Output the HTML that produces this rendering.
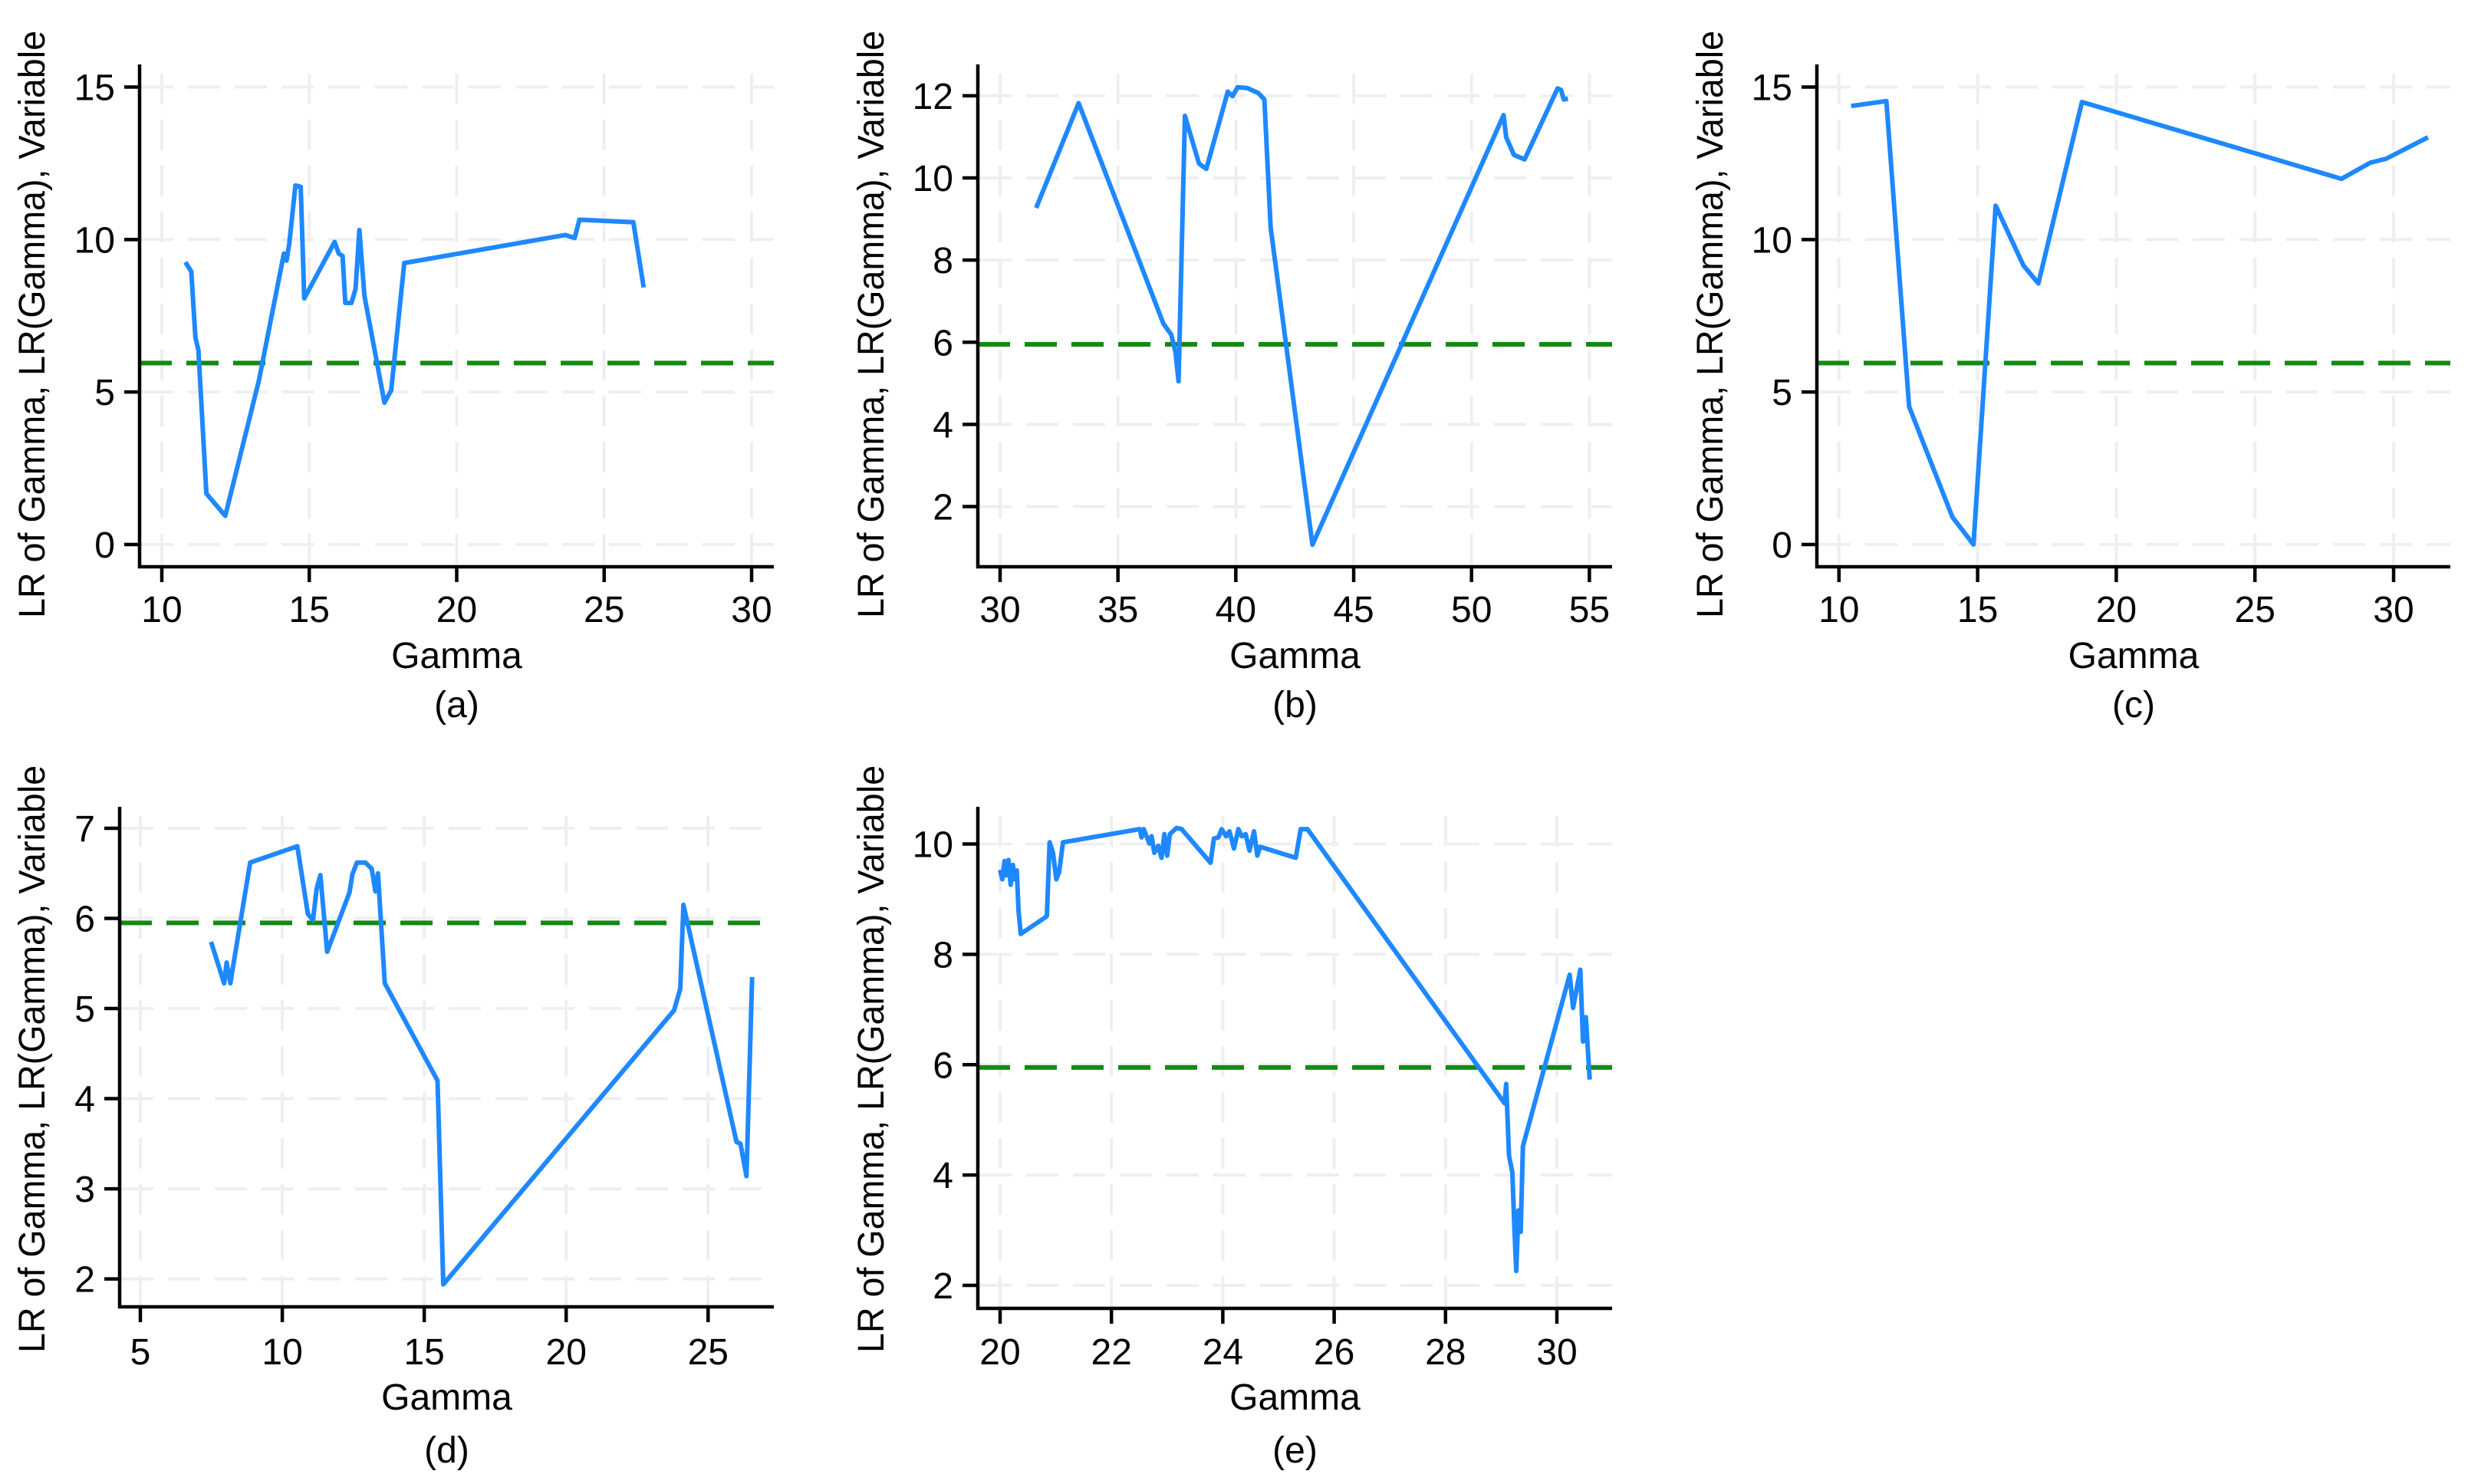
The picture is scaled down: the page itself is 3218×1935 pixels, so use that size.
<!DOCTYPE html>
<html><head><meta charset="utf-8"><style>
html,body{margin:0;padding:0;background:#fff;}
svg{display:block;font-family:"Liberation Sans",Arial,sans-serif;}
</style></head><body>
<svg id="fig" width="3218" height="1935" viewBox="0 0 3218 1935" xmlns="http://www.w3.org/2000/svg"></svg>
<script>
// Panel (a)
const aGamma=[10.8,11.0,11.14,11.24,11.51,12.15,13.29,14.14,14.23,14.32,14.53,14.71,14.83,15.86,16.0,16.13,16.22,16.43,16.57,16.7,16.87,17.55,17.78,18.22,23.68,24.0,24.16,25.99,26.34];
const aLR=[9.26,8.95,6.79,6.37,1.67,0.94,5.37,9.54,9.31,9.85,11.77,11.73,8.07,9.92,9.54,9.46,7.92,7.92,8.38,10.31,8.15,4.65,5.06,9.23,10.15,10.05,10.65,10.57,8.43];
const aXTicks=[10,15,20,25,30];
const aYTicks=[0,5,10,15];
// Panel (b)
const bGamma=[31.53,33.33,36.93,37.26,37.44,37.57,37.84,38.44,38.75,39.66,39.86,40.08,40.48,40.95,41.21,41.48,43.25,51.36,51.47,51.8,52.25,53.65,53.8,53.91,54.09];
const bLR=[9.27,11.82,6.45,6.19,5.76,5.05,11.51,10.35,10.22,12.1,11.99,12.21,12.19,12.07,11.91,8.79,1.07,11.53,10.99,10.56,10.45,12.18,12.14,11.91,11.93];
const bXTicks=[30,35,40,45,50,55];
const bYTicks=[2,4,6,8,10,12];
// Panel (c)
const cGamma=[10.44,11.71,12.53,14.09,14.85,15.65,16.65,17.19,18.76,28.12,29.16,29.73,31.24];
const cLR=[14.38,14.54,4.52,0.9,0.0,11.11,9.15,8.56,14.51,11.99,12.52,12.65,13.35];
const cXTicks=[10,15,20,25,30];
const cYTicks=[0,5,10,15];
// Panel (d)
const dGamma=[7.49,7.95,8.04,8.17,8.87,10.53,10.9,11.08,11.21,11.34,11.58,12.37,12.47,12.63,12.93,13.15,13.28,13.37,13.61,15.47,15.67,23.8,24.02,24.13,26.0,26.14,26.35,26.55];
const dLR=[5.74,5.28,5.51,5.28,6.62,6.80,6.05,5.98,6.33,6.48,5.63,6.29,6.49,6.62,6.62,6.55,6.30,6.50,5.28,4.20,1.94,4.98,5.22,6.15,3.52,3.50,3.14,5.35];
const dXTicks=[5,10,15,20,25];
const dYTicks=[2,3,4,5,6,7];
// Panel (e)
const eGamma=[20.0,20.04,20.08,20.11,20.15,20.19,20.23,20.26,20.3,20.33,20.37,20.84,20.89,20.95,21.01,21.06,21.13,22.51,22.54,22.58,22.68,22.72,22.77,22.84,22.9,22.95,23.0,23.05,23.17,23.26,23.78,23.84,23.92,23.98,24.06,24.12,24.2,24.28,24.34,24.41,24.48,24.56,24.62,24.67,25.31,25.4,25.52,29.06,29.09,29.14,29.2,29.24,29.27,29.31,29.35,29.39,30.23,30.29,30.42,30.47,30.52,30.59];
const eLR=[9.53,9.36,9.69,9.43,9.71,9.26,9.62,9.36,9.52,8.80,8.37,8.69,10.03,9.84,9.36,9.49,10.03,10.27,10.12,10.27,10.01,10.14,9.84,9.97,9.75,10.18,9.79,10.18,10.29,10.27,9.66,10.1,10.12,10.27,10.14,10.23,9.92,10.27,10.14,10.18,9.88,10.23,9.79,9.95,9.75,10.27,10.27,5.30,5.65,4.35,4.05,2.97,2.26,3.36,2.97,4.52,7.63,7.03,7.72,6.42,6.86,5.73];
const eXTicks=[20,22,24,26,28,30];
const eYTicks=[2,4,6,8,10];
const critValue=5.95;

const NS="http://www.w3.org/2000/svg";
const svg=document.getElementById('fig');
const FS=48;
function mk(tag,attrs,parent){const e=document.createElementNS(NS,tag);for(const k in attrs)e.setAttribute(k,attrs[k]);parent.appendChild(e);return e;}

function panel(id,g0,gx,v0,vx,ticksX,ticksY,xs,ys,L,R,T,B,titleX,titleCY,xlabY,gamY,capY){
  const X=v=>gx[0]+(v-g0[0])*(gx[1]-gx[0])/(g0[1]-g0[0]);
  const Y=v=>vx[0]+(v-v0[0])*(vx[1]-vx[0])/(v0[1]-v0[0]);
  const g=mk('g',{},svg);
  
  
  ticksX.forEach(t=>{const l=mk('line',{x1:X(t),x2:X(t),y1:T+12,y2:B,stroke:'#efefef','stroke-width':4,'stroke-dasharray':'40 20'},g);
    
    });
  ticksY.forEach(t=>{const l=mk('line',{x1:L,x2:R,y1:Y(t),y2:Y(t),stroke:'#efefef','stroke-width':4,'stroke-dasharray':'42 19','stroke-dashoffset':-2},g);
    
    });
  const cl=mk('line',{x1:L,x2:R,y1:Y(critValue),y2:Y(critValue),stroke:'#138a13','stroke-width':6,'stroke-dasharray':'42 19'},g);
  
  
  const pts=xs.map((v,i)=>X(v).toFixed(1)+','+Y(ys[i]).toFixed(1)).join(' ');
  const pl=mk('polyline',{points:pts,fill:'none',stroke:'#1e88ff','stroke-width':6,'stroke-linejoin':'round'},g);
  
  
  const ax=mk('path',{d:`M${L},${T} L${L},${B} L${R},${B}`,fill:'none',stroke:'#000','stroke-width':4.5},g);
  
  
  ticksY.forEach(t=>{mk('line',{x1:L-20,x2:L,y1:Y(t),y2:Y(t),stroke:'#000','stroke-width':4.5},g);
    const tx=mk('text',{x:L-32,y:Y(t)+17,'text-anchor':'end','font-size':FS},g);tx.textContent=t;
    
    });
  ticksX.forEach(t=>{mk('line',{x1:X(t),x2:X(t),y1:B,y2:B+20,stroke:'#000','stroke-width':4.5},g);
    const tx=mk('text',{x:X(t),y:xlabY+17,'text-anchor':'middle','font-size':FS},g);tx.textContent=t;
    
    });
  const yt=mk('text',{x:0,y:0,'text-anchor':'middle','font-size':FS,textLength:766,lengthAdjust:'spacingAndGlyphs',transform:`translate(${titleX+17},${titleCY}) rotate(-90)`},g);
  yt.textContent='LR of Gamma, LR(Gamma), Variable';
  
  
  const xt=mk('text',{x:(L+R)/2,y:gamY+17,'text-anchor':'middle','font-size':FS},g);
  xt.textContent='Gamma';
  
  
  const ct=mk('text',{x:(L+R)/2,y:capY+17,'text-anchor':'middle','font-size':FS},g);
  ct.textContent='('+id+')';
  
  
}
panel('a',[10,30],[211,980],[0,15],[710,113.5],aXTicks,aYTicks,aGamma,aLR,182,1009,84,739,41,423,794,854,918);
panel('b',[30,55],[1304,2072.4],[2,12],[660.5,124.9],bXTicks,bYTicks,bGamma,bLR,1275,2102,84,739,1135,423,794,854,918);
panel('c',[10,30],[2397.8,3121],[0,15],[710,113.5],cXTicks,cYTicks,cGamma,cLR,2369,3195,84,739,2229,423,794,854,918);
panel('d',[5,25],[183,923.3],[2,7],[1667.6,1080],dXTicks,dYTicks,dGamma,dLR,156,1009,1052,1704,41,1381,1762,1821,1890);
panel('e',[20,30],[1304,2030],[2,10],[1676,1100.5],eXTicks,eYTicks,eGamma,eLR,1275,2102,1052,1706,1135,1381,1762,1821,1890);
</script>
</body></html>
